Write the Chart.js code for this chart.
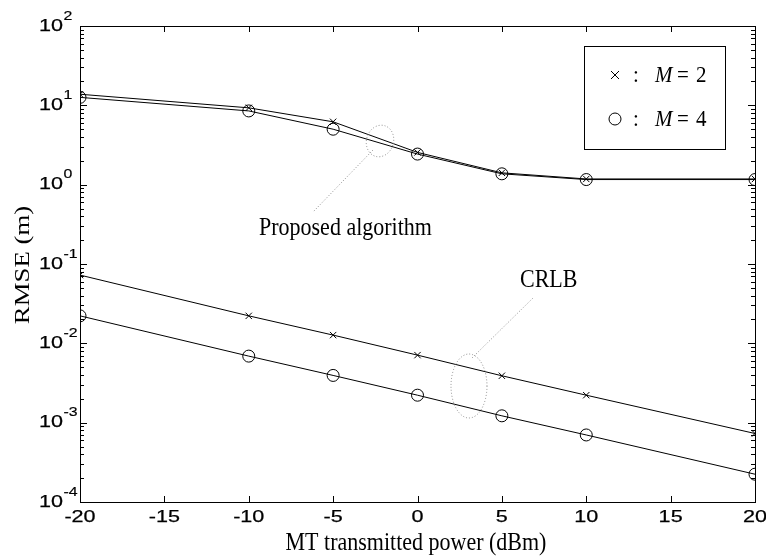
<!DOCTYPE html>
<html><head><meta charset="utf-8">
<script src="https://cdn.jsdelivr.net/npm/chart.js@4"></script>
<style>html,body{margin:0;padding:0;background:#fff}#wrap{width:766px;height:556px}</style>
</head><body><div id="wrap"><canvas id="c"></canvas></div>
<script>
const powers = [-20, -10, -5, 0, 5, 10, 20];
const propM2 = [13.8, 9.3, 6.2, 2.55, 1.41, 1.18, 1.18];
const propM4 = [12.6, 8.5, 5.0, 2.43, 1.37, 1.16, 1.16];
const crlbM2 = [0.0725, 0.0222, 0.0127, 0.0071, 0.0039, 0.00222, 0.00073];
const crlbM4 = [0.0222, 0.0069, 0.00394, 0.00222, 0.00122, 0.00070, 0.000224];
const xTicks = [-20, -15, -10, -5, 0, 5, 10, 15, 20];
const yExponents = [2, 1, 0, -1, -2, -3, -4];
const xTitle = 'MT transmitted power (dBm)';
const yTitle = 'RMSE (m)';
const legendSymbols = ['M', 'M'];
const legendValues = ['2', '4'];

const SANS = '"Liberation Sans", Arial, sans-serif';
const SERIF = '"Liberation Serif", "Times New Roman", serif';

const pts = (ys) => powers.map((x, i) => ({x: x, y: ys[i]}));
const mk = (label, ys, style, r) => ({
  label, data: pts(ys), borderColor: '#000', borderWidth: 1, backgroundColor: 'rgba(0,0,0,0)',
  pointStyle: style, pointRadius: r, pointBorderColor: '#000', pointBorderWidth: 1,
  pointBackgroundColor: 'rgba(0,0,0,0)', tension: 0, fill: false
});

function txt(ctx, s, x, y, font, sx, sy, align, base, bold) {
  ctx.save();
  ctx.translate(x, y); ctx.scale(sx, sy);
  ctx.font = font; ctx.textAlign = align; ctx.textBaseline = base;
  ctx.fillText(s, 0, 0);
  if (bold) { ctx.lineWidth = bold; ctx.strokeStyle = '#000'; ctx.strokeText(s, 0, 0); }
  ctx.restore();
}

const frame = {
  id: 'frame',
  afterDraw(chart) {
    const ctx = chart.ctx, a = chart.chartArea, xs = chart.scales.x, ys = chart.scales.y;
    ctx.save();
    ctx.strokeStyle = '#000'; ctx.lineWidth = 1;
    ctx.strokeRect(a.left + 0.5, a.top + 0.5, a.right - a.left, a.bottom - a.top);
    ctx.beginPath();
    xTicks.forEach(t => {
      const px = Math.round(xs.getPixelForValue(t)) + 0.5;
      ctx.moveTo(px, a.bottom); ctx.lineTo(px, a.bottom - 6);
      ctx.moveTo(px, a.top); ctx.lineTo(px, a.top + 6);
    });
    for (let e = -4; e <= 2; e++) {
      const py = Math.round(ys.getPixelForValue(Math.pow(10, e))) + 0.5;
      ctx.moveTo(a.left, py); ctx.lineTo(a.left + 7, py);
      ctx.moveTo(a.right, py); ctx.lineTo(a.right - 7, py);
      if (e < 2) for (let m = 2; m <= 9; m++) {
        const q = Math.round(ys.getPixelForValue(m * Math.pow(10, e))) + 0.5;
        ctx.moveTo(a.left, q); ctx.lineTo(a.left + 4, q);
        ctx.moveTo(a.right, q); ctx.lineTo(a.right - 4, q);
      }
    }
    ctx.stroke();
    ctx.fillStyle = '#000';
    // x tick labels
    xTicks.forEach(t => {
      txt(ctx, String(t), xs.getPixelForValue(t), 517.5, '17px ' + SANS, 1.27, 1, 'center', 'middle', 0.25);
    });
    // y tick labels
    yExponents.forEach(e => {
      const py = ys.getPixelForValue(Math.pow(10, e));
      txt(ctx, '10', 63, py, '17px ' + SANS, 1.27, 1, 'right', 'middle', 0.25);
      txt(ctx, e < 0 ? '-' + (-e) : String(e), 63.5, py - 10, '13px ' + SANS, 1.22, 1, 'left', 'middle', 0.2);
    });
    // axis titles
    txt(ctx, xTitle, 416, 550, '22px ' + SERIF, 1, 1.12, 'center', 'alphabetic');
    ctx.save();
    ctx.translate(29, 265); ctx.rotate(-Math.PI / 2); ctx.scale(1.22, 1);
    ctx.font = '22px ' + SERIF; ctx.textAlign = 'center'; ctx.textBaseline = 'alphabetic';
    ctx.fillText(yTitle, 0, 0);
    ctx.restore();
    // annotations
    ctx.strokeStyle = '#8a8a8a'; ctx.setLineDash([1, 2]);
    ctx.beginPath(); ctx.ellipse(380, 141, 13.5, 16, 0.3, 0, Math.PI * 2); ctx.stroke();
    ctx.beginPath(); ctx.moveTo(373, 150); ctx.lineTo(313, 212); ctx.stroke();
    ctx.beginPath(); ctx.ellipse(469, 386, 18, 32, 0, 0, Math.PI * 2); ctx.stroke();
    ctx.beginPath(); ctx.moveTo(472, 358); ctx.lineTo(533, 298); ctx.stroke();
    ctx.setLineDash([]);
    txt(ctx, 'Proposed algorithm', 259, 235, '22px ' + SERIF, 1, 1.12, 'left', 'alphabetic');
    txt(ctx, 'CRLB', 520, 287, '22px ' + SERIF, 1, 1.12, 'left', 'alphabetic');
    // legend
    ctx.strokeStyle = '#000'; ctx.lineWidth = 1;
    ctx.strokeRect(584.5, 46.5, 141, 103);
    const rows = [82, 126];
    ctx.beginPath();
    ctx.moveTo(611, 71); ctx.lineTo(619, 79); ctx.moveTo(619, 71); ctx.lineTo(611, 79);
    ctx.stroke();
    ctx.beginPath(); ctx.arc(615, 119, 6, 0, Math.PI * 2); ctx.stroke();
    rows.forEach((y, i) => {
      txt(ctx, ':', 633, y, '21px ' + SERIF, 1, 1.12, 'left', 'alphabetic');
      txt(ctx, legendSymbols[i], 655, y, 'italic 21px ' + SERIF, 1, 1.12, 'left', 'alphabetic');
      txt(ctx, '=', 677, y, '21px ' + SERIF, 1, 1.12, 'left', 'alphabetic');
      txt(ctx, legendValues[i], 696, y, '21px ' + SERIF, 1, 1.12, 'left', 'alphabetic');
    });
    ctx.restore();
  }
};

new Chart(document.getElementById('c'), {
  type: 'line',
  data: { datasets: [
    mk('Proposed M=2', propM2, 'crossRot', 4.5),
    mk('Proposed M=4', propM4, 'circle', 6),
    mk('CRLB M=2', crlbM2, 'crossRot', 4.5),
    mk('CRLB M=4', crlbM4, 'circle', 6)
  ]},
  options: {
    responsive: true, maintainAspectRatio: false, animation: false,
    layout: { padding: { top: 26, right: 11, left: 0, bottom: 0 } },
    plugins: { legend: { display: false }, tooltip: { enabled: false } },
    scales: {
      x: {
        type: 'linear', min: -20, max: 20,
        afterBuildTicks: (s) => { s.ticks = xTicks.map(v => ({value: v})); },
        afterFit: (s) => { s.height = 54; },
        grid: { display: false, drawTicks: false }, border: { display: false },
        ticks: { display: false }
      },
      y: {
        type: 'logarithmic', min: 1e-4, max: 1e2,
        afterFit: (s) => { s.width = 80; },
        grid: { display: false, drawTicks: false }, border: { display: false },
        ticks: { display: false }
      }
    }
  },
  plugins: [frame]
});
</script></body></html>
